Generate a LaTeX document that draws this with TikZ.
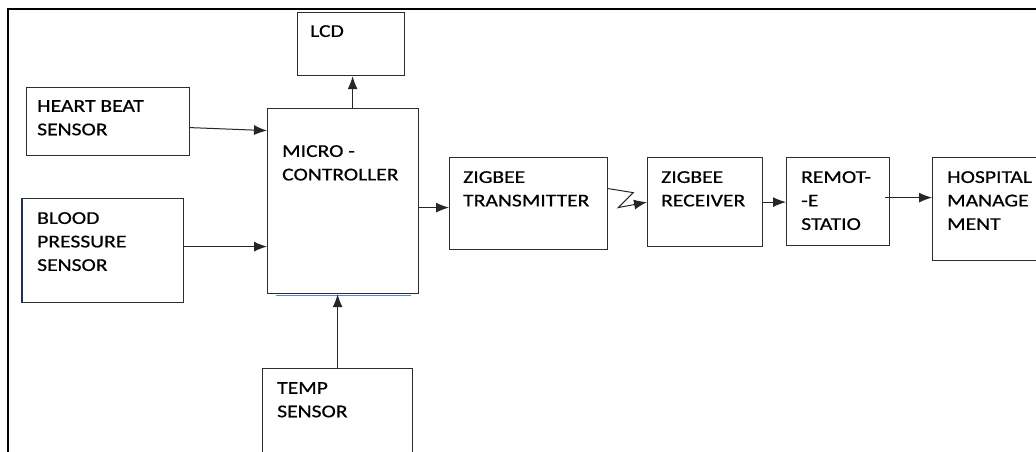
\documentclass[tikz,border=0pt]{standalone}
\usepackage{fontspec}
\setmainfont{Carlito}[FakeStretch=1.2,FakeBold=0.6]
\usetikzlibrary{arrows.meta}
\newcommand{\blockfont}{\fontsize{18}{23.5}\selectfont}
\definecolor{boxgray}{RGB}{45,45,45}
\definecolor{underblue}{RGB}{80,140,210}
\definecolor{edgenavy}{RGB}{30,50,80}

\tikzset{
  blk/.style={draw=boxgray, line width=1.2pt, anchor=north west, inner sep=0pt},
  txt/.style={anchor=north west, align=left, inner sep=0pt, text=black, font=\blockfont},
  arr/.style={-{Latex[length=13pt,width=10pt]}, line width=1pt, draw=black!85}
}

\begin{document}
\begin{tikzpicture}[x=1pt,y=-1pt]
\useasboundingbox (0,0) rectangle (1036,451);
\clip (0,0) rectangle (1036,451);

% outer frame
\draw[line width=2.5pt] (8,452) -- (8,9) -- (1037,9);

% blocks
\node[blk, minimum width=107pt, minimum height=63pt] (lcd) at (297,12) {};
\node[blk, minimum width=163pt, minimum height=68pt] (heart) at (26,87) {};
\node[blk, minimum width=161pt, minimum height=104pt] (blood) at (22,198) {};
\node[blk, minimum width=151pt, minimum height=185pt] (mc) at (267,108) {};
\node[blk, minimum width=150pt, minimum height=100pt] (temp) at (262,368) {};
\node[blk, minimum width=158pt, minimum height=92pt] (zt) at (449,157) {};
\node[blk, minimum width=115pt, minimum height=89pt] (zr) at (647,157) {};
\node[blk, minimum width=103pt, minimum height=88pt] (rs) at (786,157) {};
\node[blk, minimum width=130pt, minimum height=103pt] (hm) at (932,157) {};

% block texts
\node[txt] (lcdtxt) at ([xshift=13pt,yshift=-13pt]lcd.north west) {LCD};
\node[txt] (hearttxt) at ([xshift=11pt,yshift=-13pt]heart.north west) {HEART BEAT\\SENSOR};
\node[txt] (bloodtxt) at ([xshift=15pt,yshift=-14pt]blood.north west) {BLOOD\\PRESSURE\\SENSOR};
\node[txt] (mctxt) at ([xshift=15pt,yshift=-37pt]mc.north west) {MICRO -\\CONTROLLER};
\node[txt] (temptxt) at ([xshift=15pt,yshift=-14pt]temp.north west) {TEMP\\SENSOR};
\node[txt] (zttxt) at ([xshift=14pt,yshift=-14pt]zt.north west) {ZIGBEE\\TRANSMITTER};
\node[txt] (zrtxt) at ([xshift=14pt,yshift=-14pt]zr.north west) {ZIGBEE\\RECEIVER};
\node[txt] (rstxt) at ([xshift=15pt,yshift=-14pt]rs.north west) {REMOT-\\-E\\STATIO};
\node[txt] (hmtxt) at ([xshift=15pt,yshift=-14pt]hm.north west) {HOSPITAL\\MANAGE\\MENT};

% edge details
\draw[edgenavy, line width=1.6pt] (blood.north west) -- (blood.south west);
\draw[underblue, line width=1.2pt] ([xshift=9pt,yshift=-1.2pt]mc.south west) -- ([xshift=-8pt,yshift=-1.2pt]mc.south east);

% connectors
\draw[arr] ([yshift=-6pt]heart.east) -- ([yshift=70.5pt]mc.west);
\draw[arr] ([yshift=4pt]blood.east) -- ([yshift=-45.5pt]mc.west);
\draw[arr] ([xshift=1.5pt]lcd.south |- mc.north) -- ([xshift=1.5pt]lcd.south);
\draw[arr] (temp.north) -- (temp.north |- mc.south);
\draw[arr] ([yshift=-4pt]zt.west -| mc.east) -- ([yshift=-4pt]zt.west);
\draw[arr] ([yshift=15pt]zt.east) -- ++(25,4) -- ++(-15,15) -- (zr.west);
\draw[arr] (zr.east) -- (zr.east -| rs.west);
\draw[arr] ([xshift=-5pt,yshift=4pt]rs.east) -- ([yshift=4pt]rs.east -| hm.west);
\end{tikzpicture}
\end{document}
